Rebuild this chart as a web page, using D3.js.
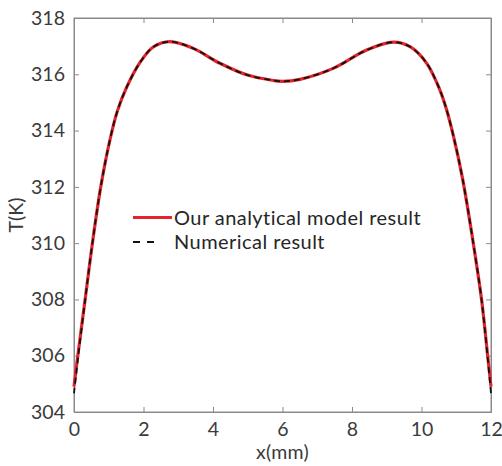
<!DOCTYPE html>
<html>
<head>
<meta charset="utf-8">
<script src="https://cdn.jsdelivr.net/npm/d3@7"></script>
<style>
  html, body { margin: 0; padding: 0; background: #fff; }
  svg { display: block; }
  text { font-family: Lato, "Open Sans", sans-serif; }
</style>
</head>
<body>
<svg id="chart" width="502" height="466"></svg>
<script>
// Data
const xPositions = [0, 0.12, 0.32, 0.53, 0.77, 1.04, 1.25, 1.52, 1.90, 2.28, 2.76, 3.43, 4.20, 4.97, 5.74, 6.0, 6.50, 7.46, 8.42, 9.19, 9.67, 10.15, 10.53, 10.72, 10.92, 11.18, 11.49, 11.73, 11.90, 12];
const analyticalT = [304.9, 306.1, 308.0, 310.0, 312.0, 313.7, 314.7, 315.55, 316.42, 316.97, 317.16, 316.92, 316.39, 315.98, 315.78, 315.75, 315.82, 316.21, 316.86, 317.14, 316.98, 316.39, 315.44, 314.75, 313.8, 312.3, 310.0, 307.98, 306.05, 304.9];
const numericalT = [304.66, 305.97, 307.98, 310.0, 312.0, 313.7, 314.7, 315.55, 316.42, 316.97, 317.16, 316.92, 316.39, 315.98, 315.78, 315.75, 315.82, 316.21, 316.86, 317.14, 316.98, 316.39, 315.44, 314.75, 313.8, 312.3, 310.0, 307.98, 305.97, 304.66];
const xTicks = [0, 2, 4, 6, 8, 10, 12];
const yTicks = [304, 306, 308, 310, 312, 314, 316, 318];
const seriesNames = ["Our analytical model result", "Numerical result"];

const W = 502, H = 466;
const margin = {left: 74, top: 18, right: 11, bottom: 54};
const svg = d3.select("#chart");

const x = d3.scaleLinear().domain([0, 12]).range([margin.left, W - margin.right]);
const y = d3.scaleLinear().domain([304, 318]).range([H - margin.bottom, margin.top]);

const axisColor = "#8a8a8a";
const textColor = "#3a3a3a";
const fontFam = "Lato, 'Open Sans', sans-serif";

// Box
svg.append("rect")
  .attr("x", x(0)).attr("y", y(318))
  .attr("width", x(12) - x(0)).attr("height", y(304) - y(318))
  .attr("fill", "none").attr("stroke", axisColor).attr("stroke-width", 1);

// Axes (inward ticks)
const xAxis = d3.axisBottom(x).tickValues(xTicks).tickSizeInner(-5).tickSizeOuter(0).tickPadding(10).tickFormat(d3.format("d"));
const gx = svg.append("g").attr("transform", `translate(0,${y(304)})`).call(xAxis);
const xAxisTop = d3.axisTop(x).tickValues(xTicks).tickSizeInner(-5).tickSizeOuter(0).tickFormat("");
const gxt = svg.append("g").attr("transform", `translate(0,${y(318)})`).call(xAxisTop);
const yAxis = d3.axisLeft(y).tickValues(yTicks).tickSizeInner(-5).tickSizeOuter(0).tickPadding(9).tickFormat(d3.format("d"));
const gy = svg.append("g").attr("transform", `translate(${x(0)},0)`).call(yAxis);
const yAxisRight = d3.axisRight(y).tickValues(yTicks).tickSizeInner(-5).tickSizeOuter(0).tickFormat("");
const gyr = svg.append("g").attr("transform", `translate(${x(12)},0)`).call(yAxisRight);

[gx, gxt, gy, gyr].forEach(g => {
  g.select(".domain").attr("stroke", axisColor);
  g.selectAll(".tick line").attr("stroke", axisColor);
  g.selectAll(".tick text").attr("fill", textColor).style("font-size", "19.5px").style("font-family", fontFam);
});
gx.selectAll(".tick text").attr("dy", "0.72em");

// Axis labels
svg.append("text")
  .attr("x", (x(0) + x(12)) / 2).attr("y", 459)
  .attr("text-anchor", "middle").attr("fill", textColor)
  .style("font-size", "19.5px").style("letter-spacing", "0.3px").text("x(mm)");
svg.append("text")
  .attr("transform", `translate(23,${(y(304) + y(318)) / 2}) rotate(-90)`)
  .attr("text-anchor", "middle").attr("fill", textColor)
  .style("font-size", "19.5px").text("T(K)");

// Lines
const analytical = xPositions.map((v, i) => ({x: v, t: analyticalT[i]}));
const numerical = xPositions.map((v, i) => ({x: v, t: numericalT[i]}));
const line = d3.line().x(d => x(d.x)).y(d => y(d.t)).curve(d3.curveCatmullRom.alpha(0.5));

svg.append("path").datum(analytical)
  .attr("d", line).attr("fill", "none")
  .attr("stroke", "#e3242b").attr("stroke-width", 3.2);
svg.append("path").datum(numerical)
  .attr("d", line).attr("fill", "none")
  .attr("stroke", "#111").attr("stroke-width", 1.8)
  .attr("stroke-dasharray", "6,4");

// Legend
const leg = svg.append("g");
leg.append("line").attr("x1", 133).attr("x2", 172).attr("y1", 217.5).attr("y2", 217.5)
  .attr("stroke", "#e3242b").attr("stroke-width", 3.2);
leg.append("text").attr("x", 174).attr("y", 217.5).attr("dy", "0.36em")
  .attr("fill", "#262626").style("font-size", "20px").style("letter-spacing", "0.45px").text(seriesNames[0]);
leg.append("line").attr("x1", 133).attr("x2", 155).attr("y1", 242).attr("y2", 242)
  .attr("stroke", "#111").attr("stroke-width", 2).attr("stroke-dasharray", "7,7");
leg.append("text").attr("x", 174).attr("y", 242).attr("dy", "0.36em")
  .attr("fill", "#262626").style("font-size", "20px").style("letter-spacing", "0.45px").text(seriesNames[1]);
</script>
</body>
</html>
